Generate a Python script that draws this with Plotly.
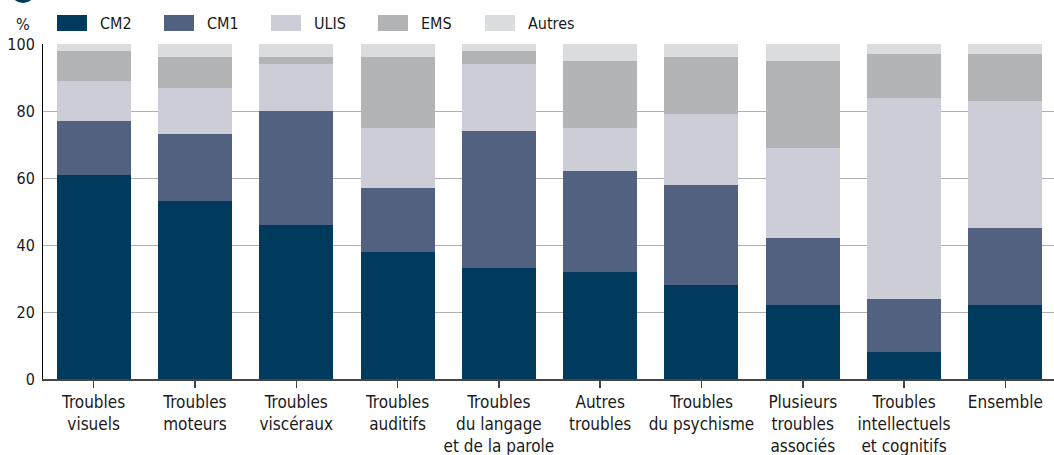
import plotly.graph_objects as go

categories = [
    "Troubles<br>visuels", "Troubles<br>moteurs", "Troubles<br>viscéraux",
    "Troubles<br>auditifs", "Troubles<br>du langage<br>et de la parole",
    "Autres<br>troubles", "Troubles<br>du psychisme", "Plusieurs<br>troubles<br>associés",
    "Troubles<br>intellectuels<br>et cognitifs", "Ensemble",
]
cm2 = [61, 53, 46, 38, 33, 32, 28, 22, 8, 22]
cm1 = [16, 20, 34, 19, 41, 30, 30, 20, 16, 23]
ulis = [12, 14, 14, 18, 20, 13, 21, 27, 60, 38]
ems = [9, 9, 2, 21, 4, 20, 17, 26, 13, 14]
autres = [2, 4, 4, 4, 2, 5, 4, 5, 3, 3]
series_names = ["CM2", "CM1", "ULIS", "EMS", "Autres"]
series_values = [cm2, cm1, ulis, ems, autres]
colors = ["#003a5d", "#536180", "#cccdd7", "#b2b3b5", "#dbdcde"]
y_ticks = [0, 20, 40, 60, 80, 100]

FONT = "DejaVu Sans Condensed, Liberation Sans Narrow, Arial Narrow, sans-serif"
W, H = 1054, 455
ML, MR, MT, MB = 43, 0, 44, 76
PW, PH = W - ML - MR, H - MT - MB


def px2x(px):
    return (px - ML) / PW


def py2y(py):
    return (H - MB - py) / PH


fig = go.Figure()
for name, vals, col in zip(series_names, series_values, colors):
    fig.add_trace(go.Bar(x=list(range(len(categories))), y=vals, name=name,
                         marker=dict(color=col, line=dict(width=0)),
                         showlegend=False))

shapes = []
annotations = []
# custom legend
for i, (name, col) in enumerate(zip(series_names, colors)):
    x0 = 57 + i * 107
    shapes.append(dict(type="rect", xref="paper", yref="paper",
                       x0=px2x(x0), x1=px2x(x0 + 30), y0=py2y(31), y1=py2y(15),
                       fillcolor=col, line=dict(width=0)))
    annotations.append(dict(text=name, xref="paper", yref="paper",
                            x=px2x(x0 + 41), y=py2y(23.5), xanchor="left", yanchor="middle",
                            showarrow=False, font=dict(family=FONT, size=16, color="#1a1a1a")))
# unit label
annotations.append(dict(text="%", xref="paper", yref="paper", x=px2x(23), y=py2y(24),
                        xanchor="center", yanchor="middle", showarrow=False,
                        font=dict(family=FONT, size=16, color="#1a1a1a")))
# section circle (cut off at top)
shapes.append(dict(type="circle", xref="paper", yref="paper",
                   x0=px2x(10), x1=px2x(36), y0=py2y(3), y1=py2y(-23),
                   fillcolor="#003a5d", line=dict(width=0)))

fig.update_layout(
    width=W, height=H,
    margin=dict(l=ML, r=MR, t=MT, b=MB, pad=0),
    barmode="stack", bargap=0.27,
    plot_bgcolor="white", paper_bgcolor="white",
    font=dict(family=FONT, size=16, color="#1a1a1a"),
    shapes=shapes, annotations=annotations,
    hovermode=False,
    xaxis=dict(
        tickmode="array", tickvals=list(range(len(categories))), ticktext=categories,
        range=[-0.5, 9.48], showline=True, linecolor="#444444", linewidth=1.5,
        ticks="outside", tickson="boundaries", ticklen=7, tickcolor="#444444", tickwidth=1.5,
        showgrid=False, zeroline=False, tickfont=dict(family=FONT, size=17, color="#1a1a1a"),
    ),
    yaxis=dict(
        range=[0, 100], tickvals=y_ticks, showline=True, linecolor="#000000", linewidth=1,
        showgrid=True, gridcolor="#b0b0b0", gridwidth=1, zeroline=False,
        ticks="", ticklabelstandoff=4, tickfont=dict(family=FONT, size=16, color="#1a1a1a"),
    ),
)

fig.write_html("out.html", config={"displayModeBar": False, "staticPlot": True},
               post_script="document.body.style.margin='0';document.body.style.overflow='hidden';")
